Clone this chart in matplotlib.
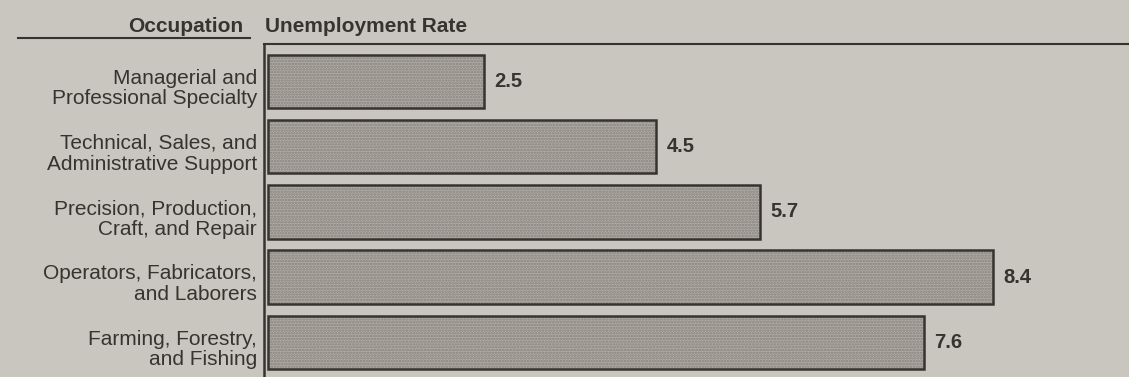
import matplotlib
matplotlib.use("Agg")
import matplotlib.pyplot as plt

categories = [
    "Managerial and\nProfessional Specialty",
    "Technical, Sales, and\nAdministrative Support",
    "Precision, Production,\nCraft, and Repair",
    "Operators, Fabricators,\nand Laborers",
    "Farming, Forestry,\nand Fishing",
]
rates = [2.5, 4.5, 5.7, 8.4, 7.6]

BG = "#c9c6bf"
INK = "#37332e"

plt.rcParams['font.family'] = ['Liberation Sans', 'DejaVu Sans']
plt.rcParams['hatch.linewidth'] = 1.2

W, H = 1129, 377
fig = plt.figure(figsize=(W / 100, H / 100), dpi=100, facecolor=BG)
ax = fig.add_axes([264 / W, 0, 1 - 264 / W, 1 - 44 / H])
ax.set_facecolor(BG)

y = list(range(len(categories)))
ax.barh(y, rates, height=0.82, left=0, color="#b0ada6", hatch="......",
        edgecolor="#85817a", linewidth=0)
ax.barh(y, rates, height=0.82, left=0, fill=False, edgecolor=INK, linewidth=1.8)

for yi, v in zip(y, rates):
    ax.text(v + 0.12, yi, f"{v}", va="center", ha="left", fontsize=14.5,
            fontweight="bold", color=INK)

for yi, lab in zip(y, categories):
    ax.annotate(lab, xy=(0, yi), xycoords=("axes fraction", "data"),
                xytext=(-7, -7), textcoords="offset pixels",
                ha="right", va="center", fontsize=15, color=INK,
                linespacing=1.12, annotation_clip=False)

ax.set_xlim(-0.046, 9.98)
ax.set_ylim(4.53, -0.575)
ax.set_xticks([])
ax.set_yticks([])
for s in ["right", "bottom"]:
    ax.spines[s].set_visible(False)
ax.spines["left"].set_color(INK)
ax.spines["left"].set_linewidth(1.8)
ax.spines["top"].set_color(INK)
ax.spines["top"].set_linewidth(1.5)

fig.text(243 / W, 1 - 27 / H, "Occupation", ha="right", va="center",
         fontsize=15, fontweight="bold", color=INK)
fig.text(265 / W, 1 - 27 / H, "Unemployment Rate", ha="left", va="center",
         fontsize=15, fontweight="bold", color=INK)
fig.add_artist(plt.Line2D([18 / W, 250 / W], [1 - 38 / H, 1 - 38 / H],
                          color=INK, linewidth=1.5))

fig.savefig("out.png", dpi=100, facecolor=BG)
